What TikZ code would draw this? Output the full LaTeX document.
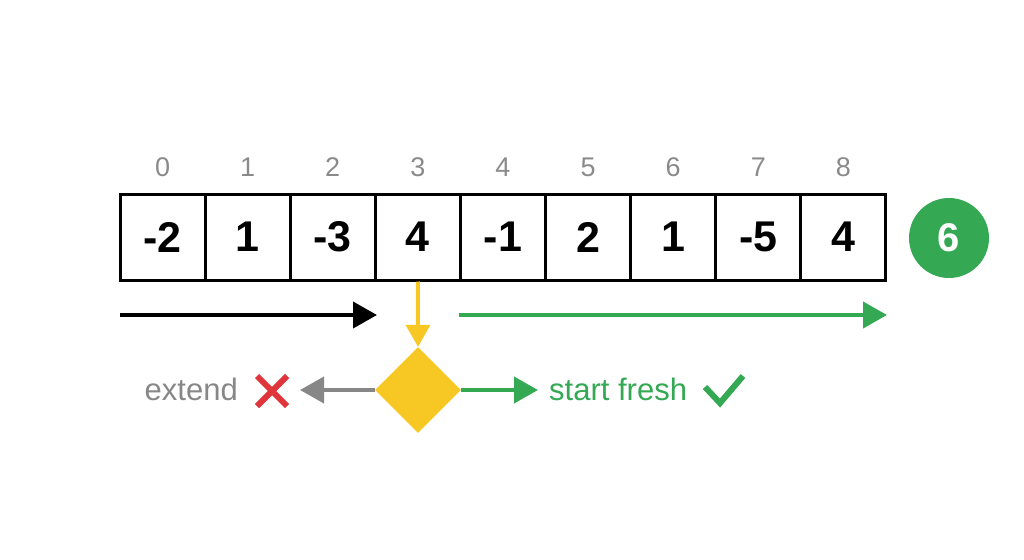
\documentclass[tikz,border=0pt]{standalone}
\usepackage{fontspec}
\setmainfont{Liberation Sans}
\usetikzlibrary{arrows.meta,shapes.geometric}
\definecolor{gGreen}{HTML}{34A853}
\definecolor{gYellow}{HTML}{F7C824}
\definecolor{gGray}{HTML}{878787}
\definecolor{gRed}{HTML}{E0353A}
\definecolor{idxGray}{HTML}{8A8A8A}
\begin{document}
\begin{tikzpicture}[x=1pt,y=-1pt,
  cell/.style={draw=black,line width=3pt,minimum width=85.1pt,minimum height=86pt,inner sep=0pt,
    font=\fontsize{43}{43}\selectfont\bfseries},
  idx/.style={text=idxGray,font=\fontsize{27}{27}\selectfont},
  arr/.style={line width=4pt,-{Triangle[length=24pt,width=26pt]}},
  lbl/.style={font=\fontsize{31}{31}\selectfont,inner sep=0pt}]
\useasboundingbox (0,0) rectangle (1024,559);
\foreach \v [count=\i from 0] in {-2,1,-3,4,-1,2,1,-5,4}{
  \node[cell] (c\i) at ({162.55+85.1*\i},237) {\v};
  \node[idx] (i\i) at ({162.55+85.1*\i},167) {\i};
}
\node[circle,fill=gGreen,minimum size=80pt,inner sep=0pt,text=white,
  font=\fontsize{40}{40}\selectfont\bfseries] (res) at (949,238) {6};
% black arrow
\coordinate (bs) at (120,315);
\coordinate (be) at (377,315);
\draw[arr,black] (bs) -- (be);
% green top arrow
\coordinate (gs) at (459,315);
\coordinate (ge) at (887,315);
\draw[arr,gGreen] (gs) -- (ge);
% diamond
\node[diamond,fill=gYellow,minimum width=86pt,minimum height=86pt,inner sep=0pt] (dia) at (418,390) {};
\draw[arr,gYellow,-{Triangle[length=22pt,width=24pt]}] (c3.south) -- (dia.north);
% gray arrow
\coordinate (ge2) at (300,390);
\draw[arr,gGray] (dia.west) -- (ge2);
\node[lbl,text=gGray,anchor=east] (ext) at (238,389) {extend};
% red cross
\coordinate (x1) at (257,376);
\coordinate (x2) at (287,406);
\coordinate (x3) at (257,406);
\coordinate (x4) at (287,376);
\draw[gRed,line width=6pt] (x1) -- (x2) (x3) -- (x4);
% green arrow
\coordinate (gr) at (538,390);
\draw[arr,gGreen] (dia.east) -- (gr);
\node[lbl,text=gGreen,anchor=west] (sf) at (549,389) {start fresh};
% check
\coordinate (k1) at (705,387);
\coordinate (k2) at (720,403);
\coordinate (k3) at (743,376);
\draw[gGreen,line width=6pt] (k1) -- (k2) -- (k3);
\end{tikzpicture}
\end{document}
